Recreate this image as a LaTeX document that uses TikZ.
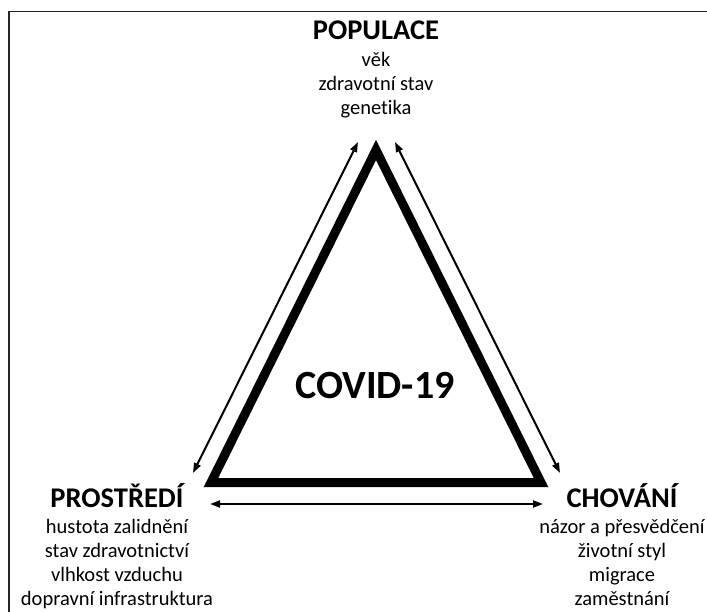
\documentclass[tikz,border=0pt]{standalone}
\usepackage{fontspec}
\setmainfont{Carlito}[Ligatures=NoCommon]
\usepackage{tikz}
\usetikzlibrary{positioning,arrows.meta}

\begin{document}
\begin{tikzpicture}[
    x=1pt, y=-1pt,
    node distance=12pt,
    every node/.style={inner sep=0pt, outer sep=0pt},
    corner/.style={font=\fontsize{28.5}{28}\selectfont\bfseries, anchor=base},
    factors/.style={font=\fontsize{20.5}{24}\selectfont, align=center},
    disease/.style={font=\fontsize{40}{40}\selectfont\bfseries, anchor=base},
    side/.style={line width=9pt, line join=miter},
    link/.style={line width=2pt, {Triangle[length=10pt,width=7pt]}-{Triangle[length=10pt,width=7pt]}},
    frame/.style={line width=1.5pt, draw=black!85}]
    \useasboundingbox (0,0) rectangle (707,612);
    \draw[frame] (707,11.5) -- (9,11.5) -- (9,612);

    \coordinate (apex) at (376,150);
    \coordinate (base left) at (211,482.5);
    \coordinate (base right) at (541,482.5);
    \draw[side] (apex) -- (base left) -- (base right) -- cycle;

    \node[disease] (covid) at (375,398) {COVID-19};

    \node[corner] (populace) at (376,40) {POPULACE};
    \node[factors] (populace list) [below = of populace] {věk\\zdravotní stav\\genetika};

    \node[corner] (prostredi) at (117,507) {PROSTŘEDÍ};
    \node[factors] (prostredi list) [below = of prostredi]
        {hustota zalidnění\\stav zdravotnictví\\vlhkost vzduchu\\dopravní infrastruktura};

    \node[corner] (chovani) at (622,507) {CHOVÁNÍ};
    \node[factors] (chovani list) [below = of chovani]
        {názor a přesvědčení\\životní styl\\migrace\\zaměstnání};

    \coordinate (pop-env) at (358,142);
    \coordinate (env-pop) at (193,473);
    \coordinate (pop-beh) at (395,142);
    \coordinate (beh-pop) at (560,473);
    \coordinate (env-beh) at (210,504);
    \coordinate (beh-env) at (543,504);
    \draw[link] (pop-env) -- (env-pop);
    \draw[link] (pop-beh) -- (beh-pop);
    \draw[link] (env-beh) -- (beh-env);
\end{tikzpicture}
\end{document}
